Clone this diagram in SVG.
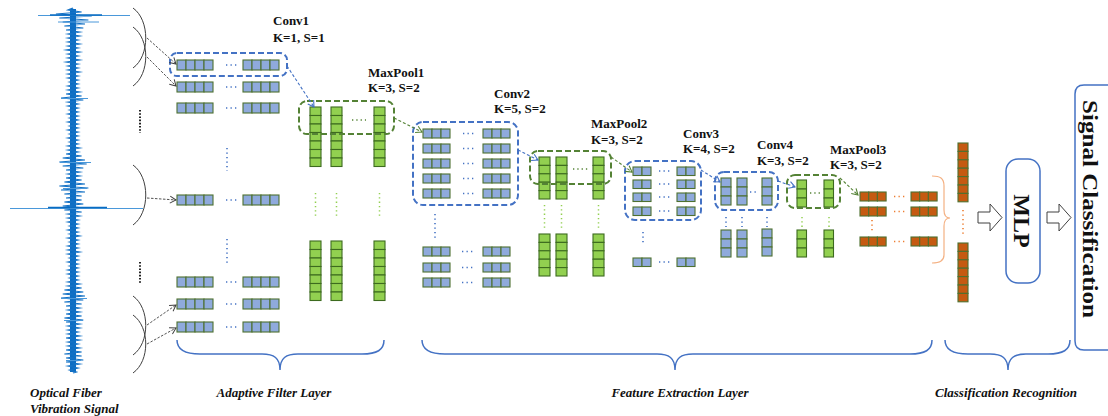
<svg xmlns="http://www.w3.org/2000/svg" width="1108" height="416" viewBox="0 0 1108 416">
<style>
.b{fill:#8FAADC;stroke:#4E7030;stroke-width:1.1}
.g{fill:#92D050;stroke:#3D6B1F;stroke-width:1.1}
.o{fill:#C55A11;stroke:#4E7030;stroke-width:1.1}
.lbl{font-family:"Liberation Serif","Times New Roman",serif;font-weight:bold;font-size:13px;fill:#111}
.cap{font-family:"Liberation Serif","Times New Roman",serif;font-weight:bold;font-style:italic;font-size:13px;fill:#111}
.boxb{fill:none;stroke:#4472C4;stroke-width:2;stroke-dasharray:6 3}
.boxg{fill:none;stroke:#548235;stroke-width:2;stroke-dasharray:6 3}
.dotb{fill:none;stroke:#4472C4;stroke-width:1.6;stroke-dasharray:1.3 3.2}
.dotg{fill:none;stroke:#92D050;stroke-width:1.5;stroke-dasharray:1.3 3}
.dotg2{fill:none;stroke:#548235;stroke-width:1.6;stroke-dasharray:1.3 3}
.doto{fill:none;stroke:#ED7D31;stroke-width:1.6;stroke-dasharray:1.3 3.2}
.dotk{fill:none;stroke:#222;stroke-width:2;stroke-dasharray:1.6 1.6}
.arb{fill:none;stroke:#4472C4;stroke-width:1.1;stroke-dasharray:3 2;marker-end:url(#mb)}
.arg{fill:none;stroke:#548235;stroke-width:1.1;stroke-dasharray:3 2;marker-end:url(#mg)}
.ark{fill:none;stroke:#404040;stroke-width:0.9;stroke-dasharray:2.5 1.5;marker-end:url(#mk)}
.arc{fill:none;stroke:#404040;stroke-width:1}
.brace{fill:none;stroke:#4472C4;stroke-width:1.5}
</style>
<defs>
<marker id="mb" markerUnits="userSpaceOnUse" markerWidth="9" markerHeight="9" refX="7" refY="4.5" orient="auto"><path d="M1,1 L7,4.5 L1,8" fill="none" stroke="#4472C4" stroke-width="1.1"/></marker>
<marker id="mg" markerUnits="userSpaceOnUse" markerWidth="9" markerHeight="9" refX="7" refY="4.5" orient="auto"><path d="M1,1 L7,4.5 L1,8" fill="none" stroke="#548235" stroke-width="1.1"/></marker>
<marker id="mk" markerUnits="userSpaceOnUse" markerWidth="9" markerHeight="9" refX="7" refY="4.5" orient="auto"><path d="M1,1 L7,4.5 L1,8" fill="none" stroke="#404040" stroke-width="1"/></marker>
<g id="b4"><rect class="b" x="0" y="0" width="9" height="10"/><rect class="b" x="9" y="0" width="9" height="10"/><rect class="b" x="18" y="0" width="9" height="10"/><rect class="b" x="27" y="0" width="9" height="10"/></g>
<g id="b3"><rect class="b" x="0" y="0" width="9" height="9"/><rect class="b" x="9" y="0" width="9" height="9"/><rect class="b" x="18" y="0" width="9" height="9"/></g>
<g id="b2"><rect class="b" x="0" y="0" width="9" height="8.5"/><rect class="b" x="9" y="0" width="9" height="8.5"/></g>
<g id="bv3"><rect class="b" x="0" y="0" width="10" height="9"/><rect class="b" x="0" y="9" width="10" height="9"/><rect class="b" x="0" y="18" width="10" height="9"/></g>
<g id="g7"><rect class="g" x="0" y="0" width="11" height="8.5"/><rect class="g" x="0" y="8.5" width="11" height="8.5"/><rect class="g" x="0" y="17" width="11" height="8.5"/><rect class="g" x="0" y="25.5" width="11" height="8.5"/><rect class="g" x="0" y="34" width="11" height="8.5"/><rect class="g" x="0" y="42.5" width="11" height="8.5"/><rect class="g" x="0" y="51" width="11" height="8.5"/></g>
<g id="g5"><rect class="g" x="0" y="0" width="11" height="8.4"/><rect class="g" x="0" y="8.4" width="11" height="8.4"/><rect class="g" x="0" y="16.8" width="11" height="8.4"/><rect class="g" x="0" y="25.2" width="11" height="8.4"/><rect class="g" x="0" y="33.6" width="11" height="8.4"/></g>
<g id="g3"><rect class="g" x="0" y="0" width="9.5" height="9"/><rect class="g" x="0" y="9" width="9.5" height="9"/><rect class="g" x="0" y="18" width="9.5" height="9"/></g>
<g id="o3"><rect class="o" x="0" y="0" width="8.7" height="9"/><rect class="o" x="8.7" y="0" width="8.7" height="9"/><rect class="o" x="17.4" y="0" width="8.7" height="9"/></g>
<g id="o7"><rect class="o" x="0" y="0" width="10" height="8.4"/><rect class="o" x="0" y="8.4" width="10" height="8.4"/><rect class="o" x="0" y="16.8" width="10" height="8.4"/><rect class="o" x="0" y="25.2" width="10" height="8.4"/><rect class="o" x="0" y="33.6" width="10" height="8.4"/><rect class="o" x="0" y="42" width="10" height="8.4"/><rect class="o" x="0" y="50.4" width="10" height="8.4"/></g>
</defs>
<rect width="1108" height="416" fill="#fff"/>

<g id="signal">
<line x1="73" y1="9" x2="73" y2="372" stroke="#0A6CC2" stroke-width="6"/>
<polyline transform="translate(73,0) scale(1.7,1) translate(-73,0)" fill="none" stroke="#1673C6" stroke-width="1.1" points="73,8 70,10 78,12 63,14 84,16 65,18 82,20 67,22 80,24 68,26 79,28 69,30 77,32 70,34 77,36 70,38 76,40 70,42 77,44 70,46 76,48 69,50 77,52 70,54 76,56 70,58 77,60 69,62 76,64 70,66 76,68 70,70 77,72 70,74 76,76 70,78 76,80 71,82 76,84 70,86 76,88 70,90 77,92 69,94 78,96 66,98 79,100 70,102 76,104 70,106 76,108 71,110 76,112 70,114 76,116 71,118 76,120 70,122 76,124 71,126 76,128 70,130 76,132 71,134 76,136 70,138 76,140 71,142 76,144 70,146 77,148 70,150 76,152 69,154 78,156 67,158 80,160 65,162 81,164 67,166 79,168 69,170 77,172 70,174 77,176 69,178 78,180 68,182 80,184 65,186 82,188 66,190 80,192 68,194 78,196 69,198 78,200 68,202 79,204 67,206 80,208 68,210 78,212 70,214 77,216 70,218 76,220 70,222 76,224 71,226 76,228 70,230 76,232 71,234 77,236 70,238 76,240 71,242 76,244 70,246 76,248 70,250 77,252 70,254 76,256 71,258 76,260 70,262 76,264 71,266 76,268 70,270 76,272 70,274 76,276 71,278 76,280 70,282 77,284 70,286 78,288 68,290 79,292 67,294 80,296 66,298 79,300 68,302 78,304 69,306 77,308 70,310 77,312 69,314 78,316 68,318 79,320 69,322 77,324 70,326 77,328 70,330 76,332 70,334 77,336 69,338 77,340 70,342 76,344 70,346 77,348 69,350 78,352 68,354 78,356 69,358 79,360 69,362 77,364 70,366 76,368 71,370 75,372 73,373"/>
<g stroke="#4A98DA" stroke-width="1" fill="none">
<path d="M38,15.5H130M58,22H99M61,98.5H88M60,162.5H91M63,188.5H87M10,208.5H143M61,298.5H87M64,320.5H83M66,360.5H81"/>
</g>
<path d="M50,15H102M48,207.5H107" stroke="#0A6CC2" stroke-width="1.3"/>
</g>

<g id="segment-brackets">
<path class="arc" d="M133,8 C150,20 150,56 133,68"/>
<path class="arc" d="M133,27 C150,39 150,74 133,86"/>
<path class="arc" d="M133,165 C150,177 150,213 133,225"/>
<path class="arc" d="M133,296 C150,308 150,343 133,355"/>
<path class="arc" d="M133,315 C150,327 150,361 133,373"/>
<path class="dotk" d="M140,110V133M140,262V284"/>
</g>

<g id="adaptive-filter">
<use href="#b4" x="177" y="60"/><use href="#b4" x="243" y="60"/>
<use href="#b4" x="177" y="82"/><use href="#b4" x="243" y="82"/>
<use href="#b4" x="177" y="103"/><use href="#b4" x="243" y="103"/>
<use href="#b4" x="177" y="195"/><use href="#b4" x="243" y="195"/>
<use href="#b4" x="177" y="277"/><use href="#b4" x="243" y="277"/>
<use href="#b4" x="177" y="299"/><use href="#b4" x="243" y="299"/>
<use href="#b4" x="177" y="322"/><use href="#b4" x="243" y="322"/>
<path class="dotb" d="M226,65h11M226,87h11M226,108h11M226,200h11M226,282h11M226,304h11M226,327h11"/>
<path class="dotb" d="M227,148V171M227,239V263"/>
</g>

<g id="conv1">
<rect class="boxb" x="170" y="53" width="117" height="23" rx="7"/>
<text class="lbl" x="273" y="25">Conv1</text>
<text class="lbl" x="273" y="42">K=1, S=1</text>
</g>

<g id="maxpool1">
<use href="#g7" x="310" y="107"/><use href="#g7" x="331" y="107"/><use href="#g7" x="374" y="107"/>
<path class="dotg2" d="M352,120h14"/>
<rect class="boxg" x="299" y="101" width="95" height="33" rx="8"/>
<path class="dotg" d="M315.5,193V217M336.5,193V217M379.5,193V217"/>
<use href="#g7" x="310" y="241"/><use href="#g7" x="331" y="241"/><use href="#g7" x="374" y="241"/>
<text class="lbl" x="368" y="77">MaxPool1</text>
<text class="lbl" x="368" y="92">K=3, S=2</text>
</g>

<g id="conv2">
<use href="#b3" x="423" y="129"/><use href="#b3" x="483" y="129"/>
<use href="#b3" x="423" y="144"/><use href="#b3" x="483" y="144"/>
<use href="#b3" x="423" y="159"/><use href="#b3" x="483" y="159"/>
<use href="#b3" x="423" y="174"/><use href="#b3" x="483" y="174"/>
<use href="#b3" x="423" y="189"/><use href="#b3" x="483" y="189"/>
<path class="dotb" d="M463,133.5h11M463,148.5h11M463,163.5h11M463,178.5h11M463,193.5h11"/>
<rect class="boxb" x="413" y="122" width="105" height="83" rx="10"/>
<path class="dotb" d="M435,214V238"/>
<use href="#b3" x="423" y="247"/><use href="#b3" x="483" y="247"/>
<use href="#b3" x="423" y="263"/><use href="#b3" x="483" y="263"/>
<use href="#b3" x="423" y="278"/><use href="#b3" x="483" y="278"/>
<path class="dotb" d="M462,251.5h11M462,267.5h11M462,282.5h11"/>
<text class="lbl" x="494" y="98">Conv2</text>
<text class="lbl" x="494" y="113">K=5, S=2</text>
</g>

<g id="maxpool2">
<use href="#g5" x="539" y="157"/><use href="#g5" x="556" y="157"/><use href="#g5" x="593" y="157"/>
<path class="dotg2" d="M573,169h16"/>
<rect class="boxg" x="530" y="151" width="81" height="33" rx="8"/>
<path class="dotg" d="M544.5,205V229M561.5,205V229M598.5,205V229"/>
<use href="#g5" x="539" y="234"/><use href="#g5" x="556" y="234"/><use href="#g5" x="593" y="234"/>
<text class="lbl" x="591" y="128">MaxPool2</text>
<text class="lbl" x="591" y="144">K=3, S=2</text>
</g>

<g id="conv3">
<use href="#b2" x="633" y="167"/><use href="#b2" x="677" y="167"/>
<use href="#b2" x="633" y="180"/><use href="#b2" x="677" y="180"/>
<use href="#b2" x="633" y="193"/><use href="#b2" x="677" y="193"/>
<use href="#b2" x="633" y="207"/><use href="#b2" x="677" y="207"/>
<path class="dotb" d="M659,171h12M659,184h12M659,197h12M659,211h12"/>
<rect class="boxb" x="625" y="161" width="76" height="59" rx="10"/>
<path class="dotb" d="M643,232V245"/>
<use href="#b2" x="633" y="258"/><use href="#b2" x="677" y="258"/>
<path class="dotb" d="M659,262h12"/>
<text class="lbl" x="683" y="138">Conv3</text>
<text class="lbl" x="683" y="153">K=4, S=2</text>
</g>

<g id="conv4">
<use href="#bv3" x="721" y="178"/><use href="#bv3" x="737" y="178"/><use href="#bv3" x="762" y="178"/>
<path class="dotb" d="M750,192h9"/>
<rect class="boxb" x="715" y="172" width="63" height="38" rx="9"/>
<path class="dotb" d="M726,217V227M742,217V227M767,217V227"/>
<use href="#bv3" x="721" y="230"/><use href="#bv3" x="737" y="230"/><use href="#bv3" x="762" y="229"/>
<text class="lbl" x="757" y="149">Conv4</text>
<text class="lbl" x="757" y="165">K=3, S=2</text>
</g>

<g id="maxpool3">
<use href="#g3" x="797" y="180"/><use href="#g3" x="824" y="180"/>
<path class="dotg2" d="M810,193h10"/>
<rect class="boxg" x="787" y="175" width="53" height="33" rx="8"/>
<path class="dotg" d="M802,217V228M829,217V228"/>
<use href="#g3" x="797" y="230"/><use href="#g3" x="824" y="230"/>
<text class="lbl" x="830" y="154">MaxPool3</text>
<text class="lbl" x="830" y="169">K=3, S=2</text>
</g>

<g id="feature-maps">
<use href="#o3" x="860" y="192"/><use href="#o3" x="911" y="192"/>
<use href="#o3" x="860" y="207"/><use href="#o3" x="911" y="207"/>
<use href="#o3" x="860" y="237"/><use href="#o3" x="911" y="237"/>
<path class="doto" d="M894,196.5h11M894,211.5h11M894,241.5h11"/>
<path class="doto" d="M872,220V233"/>
<path fill="none" stroke="#F4B183" stroke-width="1.2" d="M932,176 C940,176 944,178 944,186 L944,210 C944,215 946,218 950,218 C946,218 944,221 944,226 L944,255 C944,261 940,263 932,263"/>
</g>

<g id="flatten">
<use href="#o7" x="958" y="143"/>
<path class="doto" d="M963,210V234"/>
<use href="#o7" x="958" y="243"/>
</g>

<g id="mlp">
<rect x="1006" y="159" width="34" height="124" rx="12" fill="#fff" stroke="#4472C4" stroke-width="1.5"/>
<text transform="translate(1014,221) rotate(90)" text-anchor="middle" font-family="Liberation Serif, Times New Roman, serif" font-weight="bold" font-size="24" fill="#111">MLP</text>
</g>

<g id="signal-classification">
<path d="M1108,85 L1084,85 Q1075,85 1075,94 L1075,341 Q1075,350 1084,350 L1108,350" fill="none" stroke="#4472C4" stroke-width="1.5"/>
<text transform="translate(1083,209) rotate(90)" text-anchor="middle" font-family="Liberation Serif, Times New Roman, serif" font-weight="bold" font-size="21" fill="#111" textLength="218" lengthAdjust="spacingAndGlyphs">Signal Classification</text>
</g>

<g id="connectors">
<path class="ark" d="M147,38 L176,64"/>
<path class="ark" d="M147,57 L176,86"/>
<path class="ark" d="M147,198 L176,200"/>
<path class="ark" d="M147,325 L176,305"/>
<path class="ark" d="M147,344 L176,328"/>
<path class="arb" d="M287,66 L314,107"/>
<path class="arg" d="M394,118 L422,132"/>
<path class="arb" d="M518,150 L538,160"/>
<path class="arg" d="M611,157 L632,172"/>
<path class="arb" d="M701,170 L720,182"/>
<path class="arb" d="M778,181 L795,187"/>
<path class="arg" d="M840,178 L858,195"/>
<polygon points="978,212 990,212 990,204 1002,217.5 990,231 990,223 978,223" fill="#fff" stroke="#404040" stroke-width="1"/>
<polygon points="1047,212 1059,212 1059,204 1071,217.5 1059,231 1059,223 1047,223" fill="#fff" stroke="#404040" stroke-width="1"/>
</g>

<g id="layer-braces">
<path class="brace" d="M177,340 C177,350 185,354 200,354 L262,354 C274,354 280,358 280,370 C280,358 286,354 298,354 L362,354 C377,354 384,350 384,340"/>
<path class="brace" d="M422,340 C422,350 430,354 445,354 L657,354 C669,354 675,358 675,370 C675,358 681,354 693,354 L910,354 C925,354 932,350 932,340"/>
<path class="brace" d="M945,340 C945,350 953,354 968,354 L990,354 C1002,354 1008,358 1008,370 C1008,358 1014,354 1026,354 L1048,354 C1063,354 1070,350 1070,340"/>
</g>

<g id="captions">
<text class="cap" x="30" y="397">Optical Fiber</text>
<text class="cap" x="30" y="413">Vibration Signal</text>
<text class="cap" x="274" y="397" text-anchor="middle">Adaptive Filter Layer</text>
<text class="cap" x="680" y="397" text-anchor="middle">Feature Extraction Layer</text>
<text class="cap" x="1006" y="397" text-anchor="middle">Classification Recognition</text>
</g>
</svg>
